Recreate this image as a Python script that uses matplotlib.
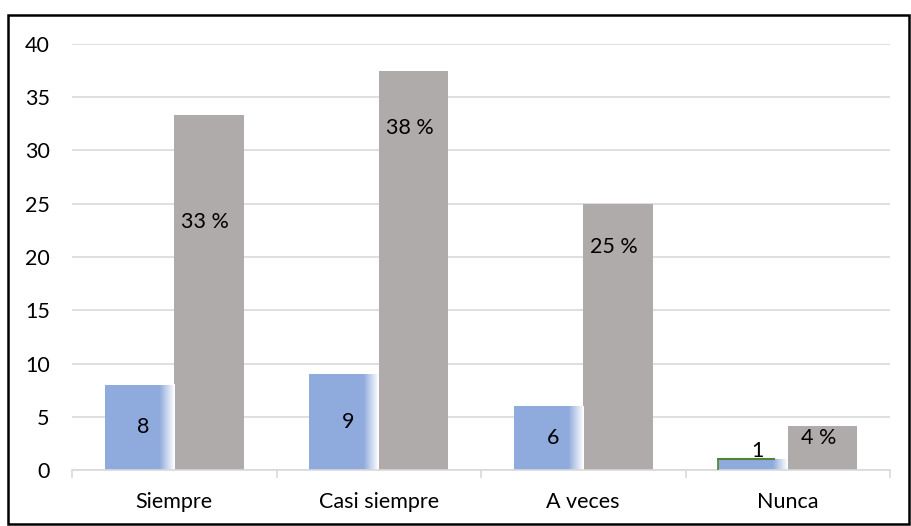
import numpy as np
import matplotlib.pyplot as plt
from matplotlib.patches import Rectangle

# data
categorias = ['Siempre', 'Casi siempre', 'A veces', 'Nunca']
frecuencia = [8, 9, 6, 1]
porcentaje = [33.33, 37.5, 25.0, 4.17]
etiquetas_pct = ['33 %', '38 %', '25 %', '4 %']
# where the percent labels sit
pos_pct = [23.3, 32.1, 20.9, 3.0]

plt.rcParams['font.family'] = ['Lato', 'DejaVu Sans']
fs = 15.5

fig = plt.figure(figsize=(9.11, 5.26), dpi=100)
ax = fig.add_axes([72 / 911, 56 / 526, 818 / 911, 426 / 526])

x = np.arange(len(categorias))
w = 0.34
azul = '#8FAADC'
gris = '#AFABAB'

b1 = ax.bar(x - w / 2, frecuencia, w, color=azul, zorder=2)
b2 = ax.bar(x + w / 2, porcentaje, w, color=gris, zorder=2)

# fade the right side of the blue bars to white
grad = np.linspace(0, 1, 100)
grad = np.clip((grad - 0.78) / 0.22, 0, 1)
img = np.ones((1, 100, 4))
img[..., 3] = grad
for r in b1:
    x0, y0 = r.get_x(), r.get_y()
    ax.imshow(img, extent=[x0, x0 + r.get_width(), y0, y0 + r.get_height()],
              aspect='auto', zorder=2.5, interpolation='bilinear')
# green top edge on the small one
r = b1[3]
ax.plot([r.get_x(), r.get_x() + r.get_width() * 0.8], [r.get_height()] * 2,
        color='#548235', lw=1.5, zorder=3)
ax.plot([r.get_x()] * 2, [0, r.get_height()], color='#548235', lw=1.2, zorder=3)

for i, v in enumerate(frecuencia):
    yy = v / 2 if v > 2 else v + 0.75
    ax.text(x[i] - w / 2 + 0.02, yy, str(v), ha='center', va='center',
            fontsize=fs, zorder=4)
for i, t in enumerate(etiquetas_pct):
    ax.text(x[i] + w / 2 - 0.02, pos_pct[i], t, ha='center', va='center',
            fontsize=fs, zorder=4)

ax.set_xlim(-0.5, len(categorias) - 0.5)
ax.set_ylim(0, 40)
ax.set_yticks(range(0, 41, 5))
ax.yaxis.grid(True, color='#D9D9D9', lw=1.2, zorder=0)
ax.set_axisbelow(True)
ax.set_xticks(x)
ax.set_xticklabels(categorias, fontsize=fs)
ax.set_xticks(np.arange(-0.5, len(categorias)), minor=True)
ax.tick_params(axis='x', which='major', length=0, pad=16)
ax.tick_params(axis='x', which='minor', length=6, color='#D9D9D9', width=1.2)
ax.tick_params(axis='y', length=0, labelsize=fs, pad=16)
for s in ['top', 'right', 'left']:
    ax.spines[s].set_visible(False)
ax.spines['bottom'].set_color('#D9D9D9')
ax.spines['bottom'].set_linewidth(1.2)

# outer black frame
fig.patches.append(Rectangle((8 / 911, 2 / 526), 901 / 911, 509 / 526,
                             transform=fig.transFigure, fill=False,
                             edgecolor='black', lw=1.8))

fig.savefig('out.png', dpi=100)
